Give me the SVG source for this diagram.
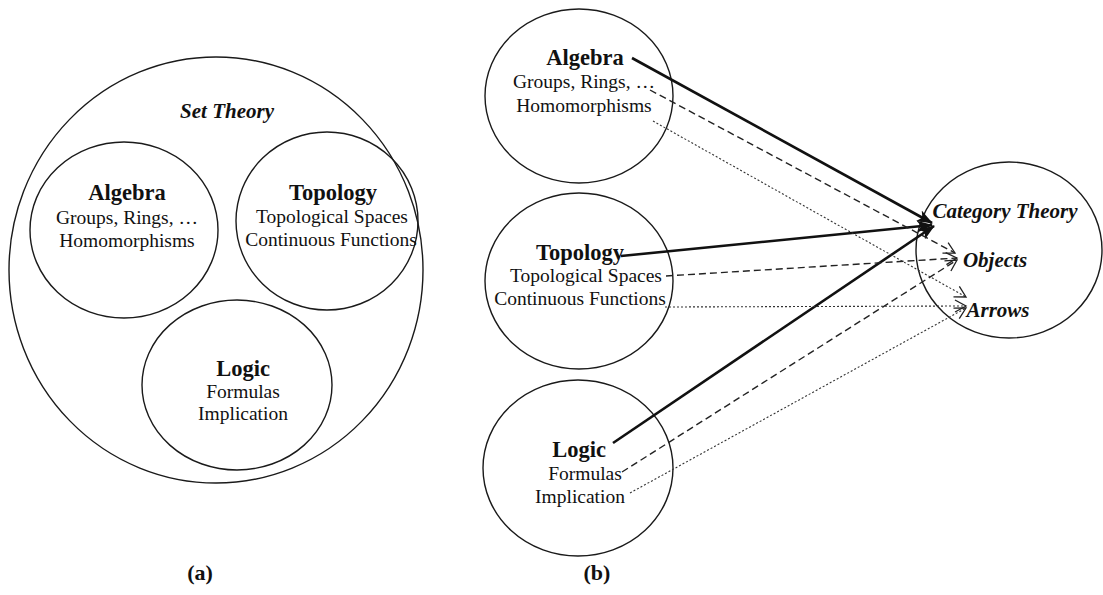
<svg xmlns="http://www.w3.org/2000/svg" width="1103" height="595" viewBox="0 0 1103 595">
  <defs>
    <style>
      .ring { fill: none; stroke: #1a1a1a; stroke-width: 1.4; }
      .t { font-family: "Liberation Serif", "Times New Roman", serif; fill: #111; text-anchor: middle; }
      .title { font-size: 22.5px; font-weight: bold; }
      .item { font-size: 19.5px; }
      .it { font-size: 21px; font-weight: bold; font-style: italic; }
      .cap { font-size: 22px; font-weight: bold; }
      .solid { stroke: #111; stroke-width: 2.6; fill: none; }
      .dash { stroke: #222; stroke-width: 1.4; fill: none; stroke-dasharray: 7 4; }
      .dot { stroke: #333; stroke-width: 1.1; fill: none; stroke-dasharray: 2 2; }
    </style>
    <marker id="headFilled" markerUnits="userSpaceOnUse" markerWidth="16" markerHeight="12" refX="15" refY="6" orient="auto">
      <path d="M0,0 L16,6 L0,12 L4,6 Z" fill="#111"/>
    </marker>
    <marker id="headOpen" markerUnits="userSpaceOnUse" markerWidth="14" markerHeight="14" refX="12" refY="7" orient="auto">
      <path d="M1,1 L12,7 L1,13" fill="none" stroke="#222" stroke-width="1.3"/>
    </marker>
  </defs>

  <!-- (a) set-theoretic view -->
  <g id="set-theory">
    <ellipse class="ring" cx="216" cy="270" rx="207" ry="213"/>
    <text class="t it" x="227" y="118">Set Theory</text>
  </g>
  <g id="a-algebra">
    <ellipse class="ring" cx="124" cy="230" rx="94" ry="88"/>
    <text class="t title" x="127" y="200">Algebra</text>
    <text class="t item" x="127" y="224">Groups, Rings, …</text>
    <text class="t item" x="127" y="247">Homomorphisms</text>
  </g>
  <g id="a-topology">
    <ellipse class="ring" cx="327" cy="221" rx="91" ry="89"/>
    <text class="t title" x="333" y="200">Topology</text>
    <text class="t item" x="332" y="223">Topological Spaces</text>
    <text class="t item" x="331" y="246">Continuous Functions</text>
  </g>
  <g id="a-logic">
    <ellipse class="ring" cx="237" cy="385" rx="95" ry="85"/>
    <text class="t title" x="243" y="376">Logic</text>
    <text class="t item" x="243" y="398">Formulas</text>
    <text class="t item" x="243" y="420">Implication</text>
  </g>

  <!-- (b) categorical view -->
  <g id="b-algebra">
    <ellipse class="ring" cx="579" cy="96" rx="94" ry="87"/>
    <text class="t title" x="585" y="65">Algebra</text>
    <text class="t item" x="584" y="88">Groups, Rings, …</text>
    <text class="t item" x="584" y="112">Homomorphisms</text>
  </g>
  <g id="b-topology">
    <ellipse class="ring" cx="579" cy="281" rx="94" ry="88"/>
    <text class="t title" x="580" y="260">Topology</text>
    <text class="t item" x="586" y="282">Topological Spaces</text>
    <text class="t item" x="580" y="305">Continuous Functions</text>
  </g>
  <g id="b-logic">
    <ellipse class="ring" cx="578" cy="468" rx="95" ry="88"/>
    <text class="t title" x="579" y="457">Logic</text>
    <text class="t item" x="585" y="480">Formulas</text>
    <text class="t item" x="580" y="503">Implication</text>
  </g>
  <g id="category-theory">
    <ellipse class="ring" cx="1009" cy="250" rx="93" ry="88"/>
    <text class="t it" x="1005" y="218">Category Theory</text>
    <text class="t it" x="995" y="267">Objects</text>
    <text class="t it" x="998" y="317">Arrows</text>
  </g>

  <!-- mappings into category theory -->
  <g id="connectors">
    <path class="solid" d="M632,58 L932,223" marker-end="url(#headFilled)"/>
    <path class="solid" d="M621,256 L932,225" marker-end="url(#headFilled)"/>
    <path class="solid" d="M613,443 L934,226" marker-end="url(#headFilled)"/>
    <path class="dash" d="M650,90 L955,253" marker-end="url(#headOpen)"/>
    <path class="dash" d="M666,276 L957,258" marker-end="url(#headOpen)"/>
    <path class="dash" d="M622,472 L957,260" marker-end="url(#headOpen)"/>
    <path class="dot" d="M653,121 L966,297" marker-end="url(#headOpen)"/>
    <path class="dot" d="M665,307 L966,306" marker-end="url(#headOpen)"/>
    <path class="dot" d="M630,493 L966,308" marker-end="url(#headOpen)"/>
  </g>

  <g id="captions">
    <text class="t cap" x="200" y="580">(a)</text>
    <text class="t cap" x="597" y="580">(b)</text>
  </g>
</svg>
